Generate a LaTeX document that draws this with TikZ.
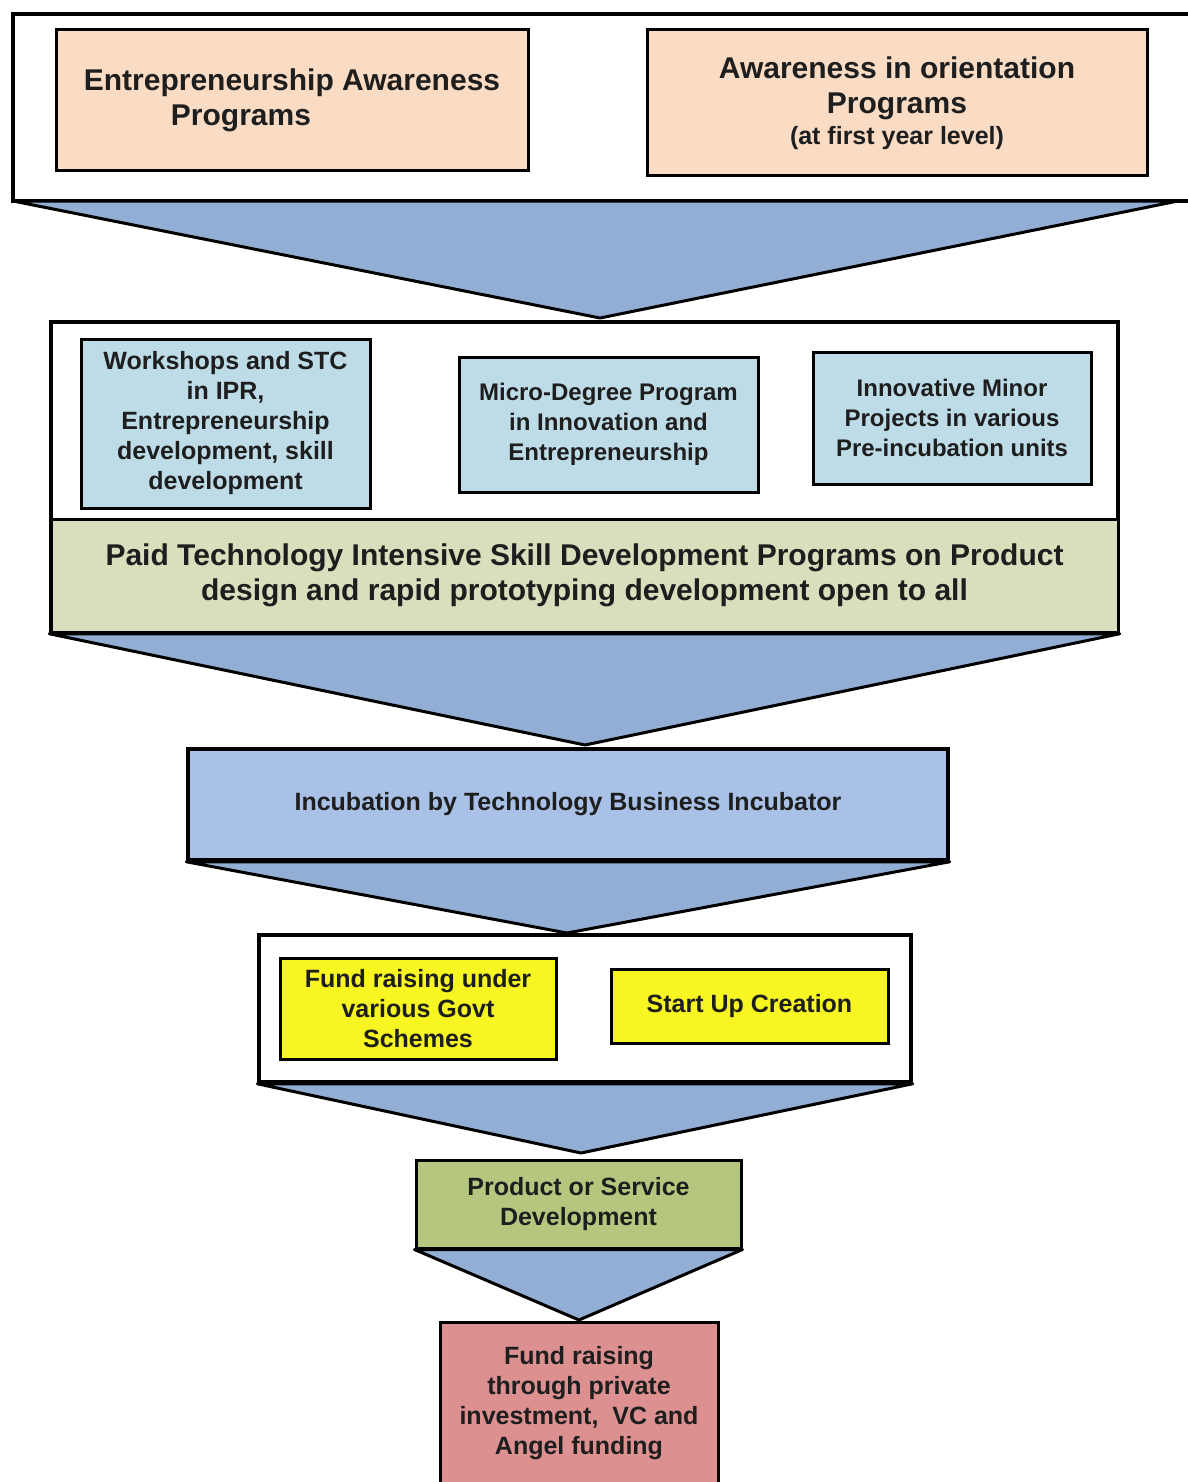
\documentclass[tikz,border=0pt]{standalone}
\usepackage{fontspec}
\setmainfont{Liberation Sans}
\definecolor{peach}{HTML}{FADCC5}
\definecolor{lblue}{HTML}{BEDCE7}
\definecolor{band}{HTML}{D8DFBD}
\definecolor{triblue}{HTML}{93AED4}
\definecolor{incblue}{HTML}{A9C1E6}
\definecolor{yel}{HTML}{F7F522}
\definecolor{prodgreen}{HTML}{B5C77F}
\definecolor{pink}{HTML}{DC9190}
\definecolor{ink}{HTML}{1E1E1E}
\begin{document}
\begin{tikzpicture}[x=1pt,y=-1pt,
  frame/.style={draw=black,line width=3.5pt,fill=white,inner sep=0pt},
  box/.style={draw=black,line width=3pt,inner sep=0pt,align=center,text=ink,
    font=\bfseries\fontsize{25}{30}\selectfont},
  bigtext/.style={font=\bfseries\fontsize{30}{35}\selectfont},
  tri/.style={draw=black,line width=3pt,fill=triblue,line join=round}]
\useasboundingbox (0,0) rectangle (1187,1482);
\fill[white] (0,0) rectangle (1187,1482);

% ---------- level 1 ----------
\node[frame,minimum width=1182pt,minimum height=187pt] (f1) at (604,107.5) {};
\node[box,bigtext,fill=peach,minimum width=472pt,minimum height=141pt] (a) at (292,100.5)
  {Entrepreneurship Awareness\\Programs\kern102pt\relax};
\node[box,bigtext,fill=peach,minimum width=500pt,minimum height=146pt] (b) at (897,103)
  {Awareness in orientation\\Programs\\[-4pt]{\fontsize{25}{30}\selectfont (at first year level)}};
\coordinate (t1l) at (13,201);
\coordinate (t1r) at (1178,201);
\coordinate (t1a) at (600,318);
\draw[tri] (t1l) -- (t1r) -- (t1a) -- cycle;

% ---------- level 2 ----------
\node[frame,minimum width=1067pt,minimum height=310pt] (f2) at (584.5,477) {};
\node[box,bigtext,fill=band,minimum width=1067pt,minimum height=113pt] (band) at (584.5,575.5)
  {Paid Technology Intensive Skill Development Programs on Product\\design and rapid prototyping development open to all};
\node[box,fill=lblue,minimum width=289pt,minimum height=169pt] (c) at (225.5,423.5)
  {Workshops and STC\\in IPR,\\Entrepreneurship\\development, skill\\development};
\node[box,fill=lblue,minimum width=299pt,minimum height=135pt,
  font=\bfseries\fontsize{24}{30}\selectfont] (d) at (608.5,424.5)
  {Micro-Degree Program\\in Innovation and\\Entrepreneurship};
\node[box,fill=lblue,minimum width=278pt,minimum height=132pt,
  font=\bfseries\fontsize{24}{30}\selectfont] (e) at (952,418)
  {Innovative Minor\\Projects in various\\Pre-incubation units};
\coordinate (t2a) at (585,745);
\draw[tri] (f2.south west) -- (f2.south east) -- (t2a) -- cycle;

% ---------- level 3 ----------
\node[box,fill=incblue,minimum width=760pt,minimum height=111pt,line width=3.5pt] (inc) at (568,804.5)
  {Incubation by Technology Business Incubator};
\coordinate (t3a) at (567,933);
\draw[tri] (inc.south west) -- (inc.south east) -- (t3a) -- cycle;

% ---------- level 4 ----------
\node[frame,minimum width=652pt,minimum height=147pt] (f3) at (585,1008.5) {};
\node[box,fill=yel,minimum width=276pt,minimum height=101pt] (fgov) at (418,1008.5)
  {Fund raising under\\various Govt\\Schemes};
\node[box,fill=yel,minimum width=277pt,minimum height=74pt] (start) at (749.5,1006)
  {Start Up Creation};
\coordinate (t4a) at (581,1153);
\draw[tri] (f3.south west) -- (f3.south east) -- (t4a) -- cycle;

% ---------- level 5 ----------
\node[box,fill=prodgreen,minimum width=325pt,minimum height=88pt] (prod) at (578.5,1204)
  {Product or Service\\Development};
\coordinate (t5a) at (579,1320);
\draw[tri] (prod.south west) -- (prod.south east) -- (t5a) -- cycle;

% ---------- level 6 ----------
\node[box,fill=pink,minimum width=278pt,minimum height=162pt] (fund) at (579,1403)
  {Fund raising\\through private\\investment,\ \ VC and\\Angel funding};
\end{tikzpicture}
\end{document}
